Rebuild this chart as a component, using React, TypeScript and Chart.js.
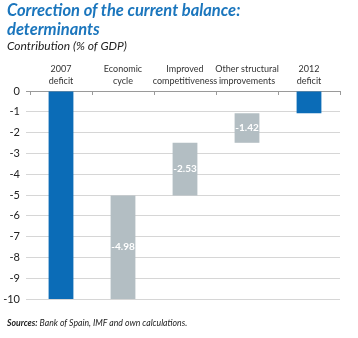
import React, { useEffect, useRef } from "react";
import { Chart, registerables } from "chart.js";

Chart.register(...registerables);

// ---- Data ----
const categories: string[][] = [
  ["2007", "deficit"],
  ["Economic", "cycle"],
  ["Improved", "competitiveness"],
  ["Other structural", "improvements"],
  ["2012", "deficit"],
];
const deficit2007 = -10;
const contributions = [-4.98, -2.53, -1.42];
const deficit2012 = -1.07;
const yTicks = [0, -1, -2, -3, -4, -5, -6, -7, -8, -9, -10];

const BLUE = "#0b6cb7";
const GRAY = "#b3bec3";
const FONT = "Lato";

export default function App() {
  const ref = useRef<HTMLCanvasElement | null>(null);

  useEffect(() => {
    document.body.style.margin = "0";
    const ranges: [number, number][] = [];
    ranges.push([0, deficit2007]);
    let level = deficit2007;
    for (const c of contributions) {
      const next = level - c;
      ranges.push([level, next]);
      level = next;
    }
    ranges.push([deficit2012, 0]);
    const colors = [BLUE, GRAY, GRAY, GRAY, BLUE];

    const labelPlugin = {
      id: "labels",
      afterDatasetsDraw(chart: any) {
        const ctx = chart.ctx;
        const meta = chart.getDatasetMeta(0);
        ctx.save();
        ctx.fillStyle = "#ffffff";
        ctx.font = `bold 10px ${FONT}`;
        ctx.textAlign = "center";
        ctx.textBaseline = "middle";
        contributions.forEach((v, i) => {
          const el = meta.data[i + 1];
          ctx.fillText(v.toFixed(2), el.x, (el.y + el.base) / 2);
        });
        ctx.restore();
      },
    };
    const tickPlugin = {
      id: "xticks",
      afterDraw(chart: any) {
        const ctx = chart.ctx;
        const a = chart.chartArea;
        const n = categories.length;
        ctx.save();
        ctx.strokeStyle = "#9a9a9a";
        ctx.lineWidth = 1;
        for (let i = 0; i <= n; i++) {
          const x = Math.round(a.left + (i * (a.right - a.left)) / n) + 0.5;
          ctx.beginPath();
          ctx.moveTo(x, a.top);
          ctx.lineTo(x, a.top + 4);
          ctx.stroke();
        }
        ctx.restore();
      },
    };

    const chart = new Chart(ref.current as HTMLCanvasElement, {
      type: "bar",
      data: {
        labels: categories,
        datasets: [
          {
            data: ranges as any,
            backgroundColor: colors,
            borderWidth: 0,
            categoryPercentage: 1,
            barPercentage: 0.4,
          },
        ],
      },
      options: {
        responsive: false,
        animation: false,
        devicePixelRatio: 1,
        layout: { padding: { left: 0, right: 18, top: 0, bottom: 39 } },
        plugins: {
          legend: { display: false },
          tooltip: { enabled: false },
          title: { display: false },
        },
        scales: {
          x: {
            position: "top",
            afterFit: (s: any) => {
              s.height = 91;
            },
            grid: { display: false },
            border: { display: true, color: "#9a9a9a", width: 1 },
            ticks: {
              color: "#333333",
              font: { family: FONT, size: 9, lineHeight: 1.3 },
              padding: -4,
              maxRotation: 0,
              autoSkip: false,
            },
          },
          y: {
            min: -10,
            max: 0,
            afterFit: (s: any) => {
              s.width = 30;
            },
            afterBuildTicks: (s: any) => {
              s.ticks = yTicks.map((v) => ({ value: v }));
            },
            border: { display: false },
            grid: {
              color: (c: any) => (c.tick && c.tick.value === 0 ? "#9a9a9a" : "#d6d6d6"),
              tickLength: 4,
              drawTicks: true,
            },
            ticks: {
              color: "#222222",
              font: { family: FONT, size: 11 },
              padding: 6,
              callback: (v: any) => String(v),
            },
          },
        },
      },
      plugins: [labelPlugin, tickPlugin],
    });
    return () => chart.destroy();
  }, []);

  return (
    <div
      style={{
        position: "relative",
        width: 358,
        height: 338,
        background: "#ffffff",
        overflow: "hidden",
      }}
    >
      <canvas
        ref={ref}
        width={358}
        height={338}
        style={{ position: "absolute", left: 0, top: 0, width: 358, height: 338 }}
      />
      <div
        style={{
          position: "absolute",
          left: 7,
          top: 1,
          fontFamily: FONT,
          fontWeight: 700,
          fontStyle: "italic",
          fontSize: 16.5,
          lineHeight: "19px",
          color: "#1b76bd",
          whiteSpace: "nowrap",
        }}
      >
        Correction of the current balance:
        <br />
        determinants
      </div>
      <div
        style={{
          position: "absolute",
          left: 7,
          top: 38,
          fontFamily: FONT,
          fontStyle: "italic",
          fontSize: 12,
          lineHeight: "16px",
          color: "#222222",
          whiteSpace: "nowrap",
        }}
      >
        Contribution (% of GDP)
      </div>
      <div
        style={{
          position: "absolute",
          left: 7,
          top: 316,
          fontFamily: FONT,
          fontStyle: "italic",
          fontSize: 8.7,
          lineHeight: "13px",
          color: "#222222",
          whiteSpace: "nowrap",
        }}
      >
        <b>Sources:</b> Bank of Spain, IMF and own calculations.
      </div>
    </div>
  );
}
